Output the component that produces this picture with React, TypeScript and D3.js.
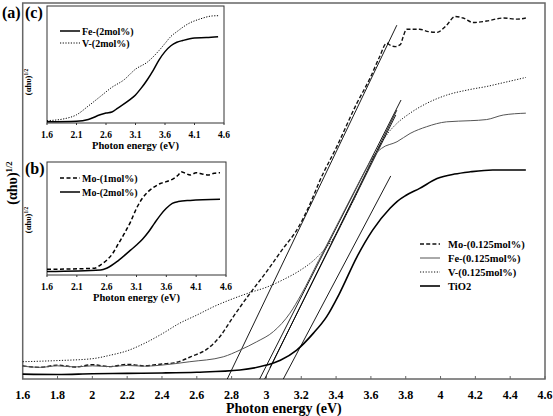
import React from "react";
import * as d3 from "d3";

// ---------- main chart data (x: photon energy eV, y: relative (αhυ)^1/2, 0..100) ----------
const moE = [1.6, 1.7, 1.8, 1.9, 2.0, 2.1, 2.2, 2.3, 2.4, 2.47, 2.57, 2.66, 2.733, 2.81, 2.906, 3.0, 3.097, 3.174, 3.25, 3.308, 3.404, 3.519, 3.595, 3.65, 3.69, 3.71, 3.74, 3.77, 3.785, 3.805, 3.88, 3.93, 3.98, 4.035, 4.083, 4.13, 4.188, 4.265, 4.36, 4.44, 4.49];
const moV = [3.5, 3.1, 3.7, 3.2, 3.8, 3.3, 3.9, 3.5, 4.0, 4.3, 6.0, 8.0, 11.3, 16.6, 22.8, 28.5, 34.8, 39.6, 46.5, 52.9, 61.8, 73.3, 80, 85.7, 89.3, 88.8, 88.4, 89, 91, 93, 93, 92.4, 92.2, 94.1, 96.4, 96, 94.8, 95.2, 96, 95.7, 96];

const feE = [1.6, 1.7, 1.8, 1.9, 2.0, 2.1, 2.2, 2.3, 2.4, 2.56, 2.752, 2.848, 2.944, 3.04, 3.135, 3.2, 3.3, 3.4, 3.5, 3.58, 3.62, 3.66, 3.75, 3.825, 3.92, 4.035, 4.17, 4.265, 4.36, 4.49];
const feV = [3.4, 3.1, 3.5, 3.2, 3.5, 3.3, 3.6, 3.4, 3.7, 4.6, 5.9, 7.7, 9.9, 12.6, 17.5, 22.5, 31.5, 40.5, 49.5, 56.5, 59.5, 61.3, 63.1, 65.3, 67.1, 68.4, 68.7, 69, 70.2, 70.7];

const vE = [1.6, 1.8, 2.0, 2.1, 2.2, 2.3, 2.4, 2.5, 2.6, 2.7, 2.81, 2.906, 3.0, 3.1, 3.19, 3.27, 3.33, 3.4, 3.45, 3.5, 3.55, 3.6, 3.65, 3.7, 3.75, 3.825, 3.92, 4.035, 4.17, 4.265, 4.36, 4.49];
const vV = [4.6, 4.9, 5.4, 6.3, 7.5, 9.5, 12, 14.8, 17, 19.3, 21.4, 23.0, 24.4, 26.5, 28.8, 31.5, 34.3, 38.5, 43, 47.5, 52.5, 57.5, 62, 65.5, 68, 70.7, 73.3, 75.5, 77, 77.8, 78.8, 80.2];

const tiE = [1.6, 1.8, 2.0, 2.2, 2.4, 2.6, 2.848, 3.0, 3.08, 3.174, 3.27, 3.346, 3.42, 3.52, 3.61, 3.71, 3.75, 3.8, 3.88, 3.98, 4.08, 4.17, 4.3, 4.49];
const tiV = [1.3, 1.2, 1.4, 1.5, 1.6, 1.8, 2.4, 3.7, 5.0, 7.7, 12.2, 16.6, 22.8, 32.5, 39.6, 45.4, 47.2, 48.8, 50.7, 53.3, 54.5, 55.1, 55.6, 55.6];

// tangent lines: [E0, y0, E1, y1]
const tangents = [
  [2.775, 0, 3.749, 94.1],
  [2.961, 0, 3.773, 74.2],
  [2.99, 0, 3.749, 71.5],
  [3.02, 3, 3.743, 70.2],
  [3.097, 0, 3.714, 54],
];

const mainTicks = [1.6, 1.8, 2.0, 2.2, 2.4, 2.6, 2.8, 3.0, 3.2, 3.4, 3.6, 3.8, 4.0, 4.2, 4.4, 4.6];
const mainLegend = ["Mo-(0.125mol%)", "Fe-(0.125mol%)", "V-(0.125mol%)", "TiO2"];

// ---------- inset (c) ----------
const cFeE = [1.6, 2.1, 2.3, 2.5, 2.6, 2.7, 2.8, 3.0, 3.1, 3.2, 3.3, 3.4, 3.5, 3.6, 3.7, 3.8, 3.9, 4.1, 4.3, 4.5];
const cFeV = [1, 1.5, 3, 7, 8.5, 9.4, 12.8, 19.7, 24, 30, 37, 45, 54, 61, 66, 69, 70.5, 72.6, 73, 73.8];
const cVE = [1.6, 1.9, 2.1, 2.3, 2.5, 2.7, 2.9, 3.1, 3.3, 3.5, 3.6, 3.7, 3.8, 4.0, 4.2, 4.4, 4.5];
const cVV = [2, 3.7, 7, 14.5, 22.5, 30.5, 36.7, 46, 52, 62, 68, 74, 78, 85, 89, 91.5, 91.7];
const cLegend = ["Fe-(2mol%)", "V-(2mol%)"];

// ---------- inset (b) ----------
const bMo1E = [1.6, 2.4, 2.5, 2.6, 2.7, 2.8, 2.9, 3.0, 3.1, 3.2, 3.3, 3.4, 3.5, 3.6, 3.7, 3.8, 3.85, 3.9, 4.0, 4.1, 4.2, 4.3, 4.4, 4.5];
const bMo1V = [5, 6, 9, 13, 19, 28, 37, 47, 59, 68, 74, 78, 81, 82.6, 84.7, 88.5, 91.4, 90.5, 88.5, 90.5, 89.4, 88.5, 90, 90.5];
const bMo2E = [1.6, 2.5, 2.6, 2.8, 3.0, 3.1, 3.2, 3.3, 3.4, 3.5, 3.6, 3.7, 3.8, 4.0, 4.5];
const bMo2V = [3, 4.4, 6, 13, 22, 26.5, 31.6, 38, 45.7, 53, 59, 63.4, 65, 66, 67];
const bLegend = ["Mo-(1mol%)", "Mo-(2mol%)"];

const insetTicks = [1.6, 2.1, 2.6, 3.1, 3.6, 4.1, 4.6];

const FONT = '"Liberation Serif", "Times New Roman", serif';
const TS = { fontFamily: FONT, fontWeight: 700 } as React.CSSProperties;

const zip = (a: number[], b: number[]) => a.map((v, i) => [v, b[i]] as [number, number]);

function YLabel({ x, y, size }: { x: number; y: number; size: number }) {
  return (
    <text transform={`translate(${x},${y}) rotate(-90)`} textAnchor="middle" style={{ ...TS, fontSize: size }}>
      (αhυ)
      <tspan style={{ fontSize: size * 0.62 }} dy={-size * 0.38}>1/2</tspan>
    </text>
  );
}

function Inset({
  x0, x1, y0, y1, series, legend, tag, legendY, ylabY,
}: {
  x0: number; x1: number; y0: number; y1: number;
  series: { pts: [number, number][]; dash?: string; w: number }[];
  legend: string[]; tag: string; legendY: number[]; ylabY: number;
}) {
  const xs = d3.scaleLinear().domain([1.6, 4.6]).range([x0, x1]);
  const ys = d3.scaleLinear().domain([0, 100]).range([y1, y0]);
  const line = d3.line<[number, number]>().x((d) => xs(d[0])).y((d) => ys(d[1])).curve(d3.curveMonotoneX);
  return (
    <g>
      <rect x={x0} y={y0} width={x1 - x0} height={y1 - y0} fill="white" stroke="#333" strokeWidth={1} />
      {series.map((s, i) => (
        <path key={i} d={line(s.pts) || ""} fill="none" stroke="black" strokeWidth={s.w} strokeDasharray={s.dash} />
      ))}
      {insetTicks.map((t) => (
        <g key={t}>
          <line x1={xs(t)} x2={xs(t)} y1={y1} y2={y1 + 2} stroke="#333" />
          <text x={xs(t)} y={y1 + 15} textAnchor="middle" style={{ ...TS, fontSize: 9.5 }}>
            {t.toFixed(1)}
          </text>
        </g>
      ))}
      <text x={(x0 + x1) / 2} y={y1 + 26} textAnchor="middle" style={{ ...TS, fontSize: 10.5 }}>
        Photon energy (eV)
      </text>
      <YLabel x={31} y={ylabY} size={8.5} />
      <text x={25} y={y0 + 12} style={{ ...TS, fontSize: 16 }}>{tag}</text>
      {legend.map((l, i) => (
        <g key={l}>
          <line x1={x0 + 13} x2={x0 + 33} y1={legendY[i]} y2={legendY[i]} stroke="black" strokeWidth={series[i].w} strokeDasharray={series[i].dash} />
          <text x={x0 + 35} y={legendY[i] + 3.5} style={{ ...TS, fontSize: 10 }}>{l}</text>
        </g>
      ))}
    </g>
  );
}

export default function App() {
  const W = 553, H = 416;
  const left = 22.7, right = 545, top = 3, bottom = 379;
  const x = d3.scaleLinear().domain([1.6, 4.6]).range([left, right]);
  const y = d3.scaleLinear().domain([0, 100]).range([bottom, top]);
  const line = d3.line<[number, number]>().x((d) => x(d[0])).y((d) => y(d[1])).curve(d3.curveMonotoneX);

  const mainSeries = [
    { pts: zip(moE, moV), dash: "4,2.2", w: 1.4, color: "#111" },
    { pts: zip(feE, feV), dash: undefined, w: 1.0, color: "#555" },
    { pts: zip(vE, vV), dash: "1.2,1.6", w: 1.0, color: "#111" },
    { pts: zip(tiE, tiV), dash: undefined, w: 1.6, color: "#000" },
  ];

  return (
    <svg width={W} height={H} style={{ position: "absolute", left: 0, top: 0, background: "white" }}>
      <rect x={0} y={0} width={W} height={H} fill="white" />
      {/* frame */}
      <rect x={left} y={top} width={right - left} height={bottom - top} fill="none" stroke="#666" strokeWidth={1.5} />
      {mainTicks.map((t) => (
        <g key={t}>
          <line x1={x(t)} x2={x(t)} y1={bottom} y2={bottom - 3} stroke="#666" />
          <text x={x(t)} y={bottom + 20} textAnchor="middle" style={{ ...TS, fontSize: 12 }}>
            {String(+t.toFixed(1))}
          </text>
        </g>
      ))}
      <text x={(left + right) / 2} y={bottom + 34} textAnchor="middle" style={{ ...TS, fontSize: 14 }}>
        Photon energy (eV)
      </text>
      <YLabel x={17} y={183} size={14} />
      <text x={2} y={18} style={{ ...TS, fontSize: 16 }}>(a)</text>

      {/* tangents */}
      {tangents.map((t, i) => (
        <line key={i} x1={x(t[0])} y1={y(t[1])} x2={x(t[2])} y2={y(t[3])} stroke="black" strokeWidth={0.9} />
      ))}
      {mainSeries.map((s, i) => (
        <path key={i} d={line(s.pts) || ""} fill="none" stroke={s.color} strokeWidth={s.w} strokeDasharray={s.dash} />
      ))}

      {/* main legend */}
      {mainLegend.map((l, i) => {
        const ly = 244 + i * 14;
        const s = mainSeries[i];
        return (
          <g key={l}>
            <line x1={420} x2={440} y1={ly} y2={ly} stroke={s.color} strokeWidth={s.w} strokeDasharray={s.dash} />
            <text x={448} y={ly + 3.5} style={{ ...TS, fontSize: 10.5 }}>{l}</text>
          </g>
        );
      })}

      <Inset
        x0={47} x1={224} y0={6} y1={123}
        series={[
          { pts: zip(cFeE, cFeV), w: 1.5 },
          { pts: zip(cVE, cVV), w: 1, dash: "1.2,1.5" },
        ]}
        legend={cLegend} tag="(c)" legendY={[31, 43]} ylabY={82}
      />
      <Inset
        x0={47} x1={226} y0={162} y1={275}
        series={[
          { pts: zip(bMo1E, bMo1V), w: 1.5, dash: "4,2.5" },
          { pts: zip(bMo2E, bMo2V), w: 1.5 },
        ]}
        legend={bLegend} tag="(b)" legendY={[178, 192]} ylabY={220}
      />
    </svg>
  );
}
